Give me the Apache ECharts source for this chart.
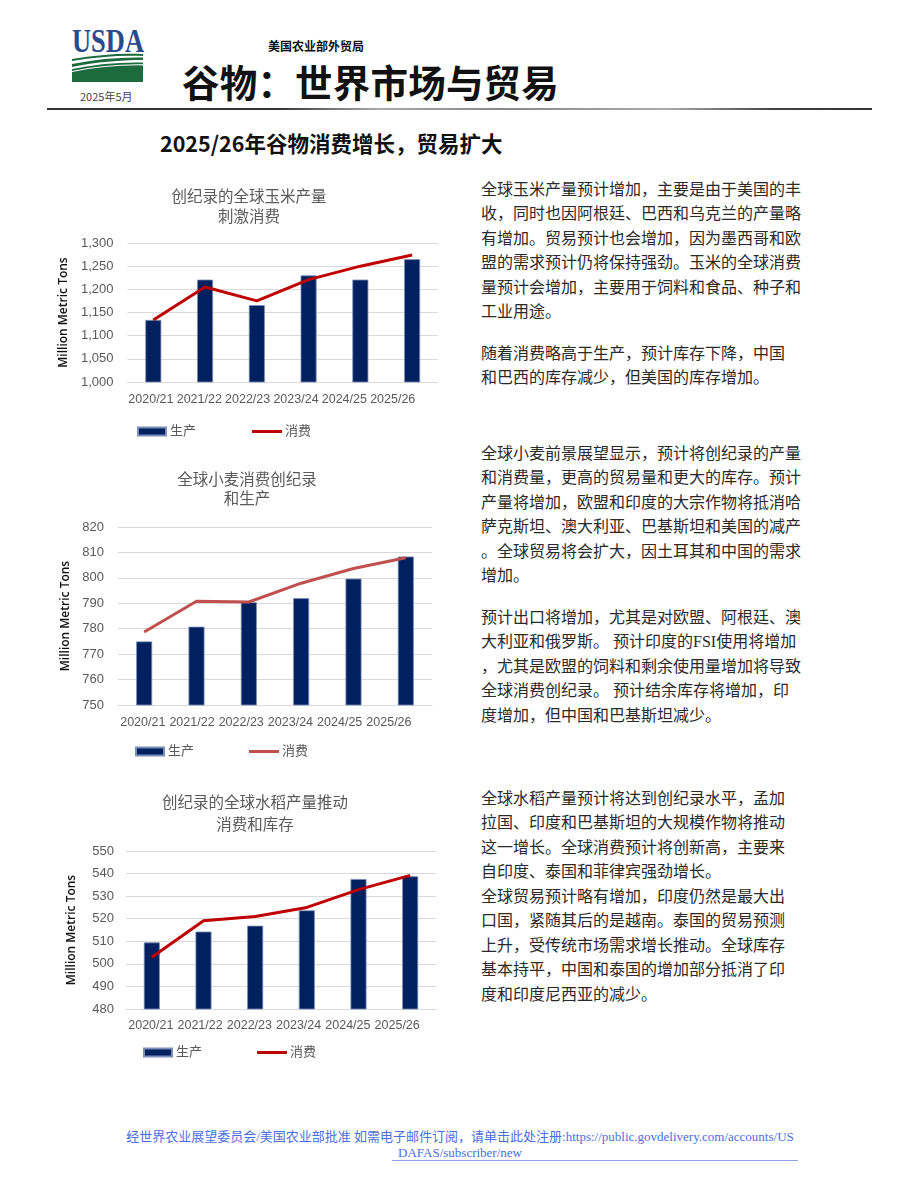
<!DOCTYPE html>
<html><head><meta charset="utf-8">
<script src="https://cdn.jsdelivr.net/npm/echarts/dist/echarts.min.js"></script>
<style>
html,body{margin:0;padding:0;background:#fff;}
#page{position:relative;width:920px;height:1191px;overflow:hidden;background:#fff;font-family:'Noto Sans CJK SC',sans-serif;}
.abs{position:absolute;}
.para{position:absolute;left:481px;font-size:16px;line-height:24.4px;color:#2a2a2a;white-space:nowrap;font-family:'Liberation Serif','Noto Sans CJK SC',serif;}
.chart{position:absolute;}
</style></head>
<body><div id="page">
<svg class="abs" style="left:68px;top:24px" width="82" height="62">
  <text x="4" y="28" font-family="Liberation Serif, serif" font-weight="bold" font-size="33" fill="#2a4a8c" textLength="72" lengthAdjust="spacingAndGlyphs">USDA</text>
  <path d="M4,35 C28,31 52,29 75,30 L75,32 C52,31 28,33 4,37 Z" fill="#1d6a3e"/>
  <path d="M4,40 C28,35 52,33 75,33.5 L75,36 C52,36 28,38 4,43 Z" fill="#1d6a3e"/>
  <path d="M4,45 C28,40 52,38 75,38.5 L75,58 L4,58 Z" fill="#1d6a3e"/>
  <path d="M4,47.5 C30,42 52,40.5 75,40.8" stroke="#fff" stroke-width="1.2" fill="none"/>
</svg>
<div class="abs" style="left:80px;top:89px;font-size:11px;color:#444;line-height:14px;">2025年5月</div>
<div class="abs" style="left:268px;top:38px;font-size:12px;font-weight:bold;color:#111;line-height:16px;">美国农业部外贸局</div>
<div class="abs" style="left:182px;top:57px;font-size:37.5px;font-weight:bold;color:#111;line-height:48px;letter-spacing:0.2px;">谷物：世界市场与贸易</div>
<div class="abs" style="left:47px;top:108px;width:825px;height:1.5px;background:linear-gradient(to right,#333 0%,#333 28%,#aaa 40%,#888 55%,#aaa 75%,#444 88%,#333 100%);"></div>
<div class="abs" style="left:160px;top:129px;font-size:21.5px;font-weight:bold;color:#111;line-height:28px;">2025/26年谷物消费增长，贸易扩大</div>

<div class="para" style="top:178px;">全球玉米产量预计增加，主要是由于美国的丰<br>收，同时也因阿根廷、巴西和乌克兰的产量略<br>有增加。贸易预计也会增加，因为墨西哥和欧<br>盟的需求预计仍将保持强劲。玉米的全球消费<br>量预计会增加，主要用于饲料和食品、种子和<br>工业用途。</div>
<div class="para" style="top:342px;">随着消费略高于生产，预计库存下降，中国<br>和巴西的库存减少，但美国的库存增加。</div>
<div class="para" style="top:442px;">全球小麦前景展望显示，预计将创纪录的产量<br>和消费量，更高的贸易量和更大的库存。预计<br>产量将增加，欧盟和印度的大宗作物将抵消哈<br>萨克斯坦、澳大利亚、巴基斯坦和美国的减产<br>。全球贸易将会扩大，因土耳其和中国的需求<br>增加。</div>
<div class="para" style="top:606px;">预计出口将增加，尤其是对欧盟、阿根廷、澳<br>大利亚和俄罗斯。 预计印度的FSI使用将增加<br>，尤其是欧盟的饲料和剩余使用量增加将导致<br>全球消费创纪录。 预计结余库存将增加，印<br>度增加，但中国和巴基斯坦减少。</div>
<div class="para" style="top:787px;">全球水稻产量预计将达到创纪录水平，孟加<br>拉国、印度和巴基斯坦的大规模作物将推动<br>这一增长。全球消费预计将创新高，主要来<br>自印度、泰国和菲律宾强劲增长。</div>
<div class="para" style="top:885px;">全球贸易预计略有增加，印度仍然是最大出<br>口国，紧随其后的是越南。泰国的贸易预测<br>上升，受传统市场需求增长推动。全球库存<br>基本持平，中国和泰国的增加部分抵消了印<br>度和印度尼西亚的减少。</div>

<div class="chart" id="c1" style="left:50px;top:180px;width:400px;height:270px;"></div>
<div class="chart" id="c2" style="left:50px;top:460px;width:400px;height:310px;"></div>
<div class="chart" id="c3" style="left:50px;top:785px;width:400px;height:290px;"></div>

<div class="abs" style="left:0;top:1129px;width:920px;text-align:center;font-size:13px;line-height:16px;color:#4a6ee0;font-family:'Liberation Serif','Noto Sans CJK SC',serif;white-space:nowrap;">经世界农业展望委员会/美国农业部批准 如需电子邮件订阅，请单击此处注册:https://public.govdelivery.com/accounts/US<br>DAFAS/subscriber/new</div>
<div class="abs" style="left:392px;top:1160px;width:406px;height:1px;background:#8ea4ee;"></div>
</div>
<script>
const years = ['2020/21','2021/22','2022/23','2023/24','2024/25','2025/26'];
const seriesNames = ['生产','消费'];

const cornTitle = '创纪录的全球玉米产量\n刺激消费';
const cornProduction = [1134,1221,1166,1230,1221,1265];
const cornConsumption = [1134,1205,1175,1221,1250,1274];
const cornAxis = {min:1000, max:1300, interval:50};

const wheatTitle = '全球小麦消费创纪录\n和生产';
const wheatProduction = [775,780.8,790.4,792,799.7,808.4];
const wheatConsumption = [778.7,790.8,790.5,797.9,803.7,807.9];
const wheatAxis = {min:750, max:820, interval:10};

const riceTitle = '创纪录的全球水稻产量推动\n消费和库存';
const riceProduction = [509.5,514.3,516.9,523.7,537.6,538.8];
const riceConsumption = [502.9,519.1,521,525,532.9,539.2];
const riceAxis = {min:480, max:550, interval:10};

const yAxisName = 'Million Metric Tons';

function build(id, title, prod, cons, axis, L) {
  const chart = echarts.init(document.getElementById(id), null, {renderer:'canvas'});
  const font = "'Liberation Sans','Noto Sans CJK SC',sans-serif";
  const rich = {};
  years.forEach((y, i) => {
    const s = L.s0 + i * L.ds;
    rich['a' + i] = {fontSize:12.5, color:'#595959', fontFamily:font, padding:[0, 2 * s, 0, 0]};
  });
  const legText = {fontSize:13, color:'#595959', fontFamily:font};
  chart.setOption({
    animation:false,
    textStyle:{fontFamily:font},
    graphic:[{type:'text', x:L.titleX, y:L.titleY, style:{text:title, textAlign:'center', textVerticalAlign:'top', fontSize:15.5, lineHeight:L.titleLH, fill:'#595959', fontFamily:font}}],
    grid:{left:L.left, right:L.right, top:L.top, bottom:L.bottom},
    legend:[
      {data:[{name:seriesNames[0], icon:'rect'}], left:L.leg1, top:L.legTop, padding:0, itemWidth:28, itemHeight:8, itemGap:0, textStyle:Object.assign({padding:[0,0,0,-1]}, legText)},
      {data:[{name:seriesNames[1], icon:'rect'}], left:L.leg2, top:L.legTop, padding:0, itemWidth:30, itemHeight:3, itemGap:0, textStyle:Object.assign({padding:[0,0,0,-2]}, legText)}
    ],
    xAxis:{type:'category', data:years, axisTick:{show:false}, axisLine:{lineStyle:{color:'#d9d9d9'}},
      axisLabel:{margin:L.xMargin, interval:0, rich:rich,
        formatter:(v, i) => '{a' + i + '|' + v + '}'}},
    yAxis:{type:'value', min:axis.min, max:axis.max, interval:axis.interval,
      name:yAxisName, nameLocation:'middle', nameGap:L.nameGap, nameRotate:90,
      nameTextStyle:{fontSize:12, color:'#111', fontFamily:"'Open Sans',sans-serif", fontWeight:600},
      axisLine:{show:false}, axisTick:{show:false},
      splitLine:{lineStyle:{color:'#d9d9d9', width:1}},
      axisLabel:{fontSize:13, color:'#595959', margin:L.yMargin, fontFamily:font,
        formatter:v=>v.toLocaleString('en-US')}},
    series:[
      {name:seriesNames[0], type:'bar', data:prod, barWidth:16,
        itemStyle:{color:'#002060', borderColor:'#7a8db5', borderWidth:0.8}},
      {name:seriesNames[1], type:'line', data:cons, symbol:'none', smooth:false,
        lineStyle:{color:L.lineColor, width:3}, itemStyle:{color:L.lineColor}, z:5}
    ]
  });
}

build('c1', cornTitle, cornProduction, cornConsumption, cornAxis,
  {titleX:199, titleY:8, titleLH:20, left:71, right:12, top:63, bottom:68, leg1:87, leg2:202, legTop:245, xMargin:11, yMargin:14, nameGap:51, s0:2.4, ds:3.4, lineColor:'#c00000'});
build('c2', wheatTitle, wheatProduction, wheatConsumption, wheatAxis,
  {titleX:197, titleY:11, titleLH:19, left:68, right:18, top:67, bottom:65, leg1:85, leg2:199, legTop:285, xMargin:11, yMargin:14, nameGap:40, s0:1.4, ds:3.1, lineColor:'#c0504d'});
build('c3', riceTitle, riceProduction, riceConsumption, riceAxis,
  {titleX:205, titleY:8, titleLH:22, left:76, right:14, top:66, bottom:66, leg1:93, leg2:207, legTop:261, xMargin:10, yMargin:12, nameGap:48, s0:1, ds:2.4, lineColor:'#c00000'});
</script>
</body></html>
